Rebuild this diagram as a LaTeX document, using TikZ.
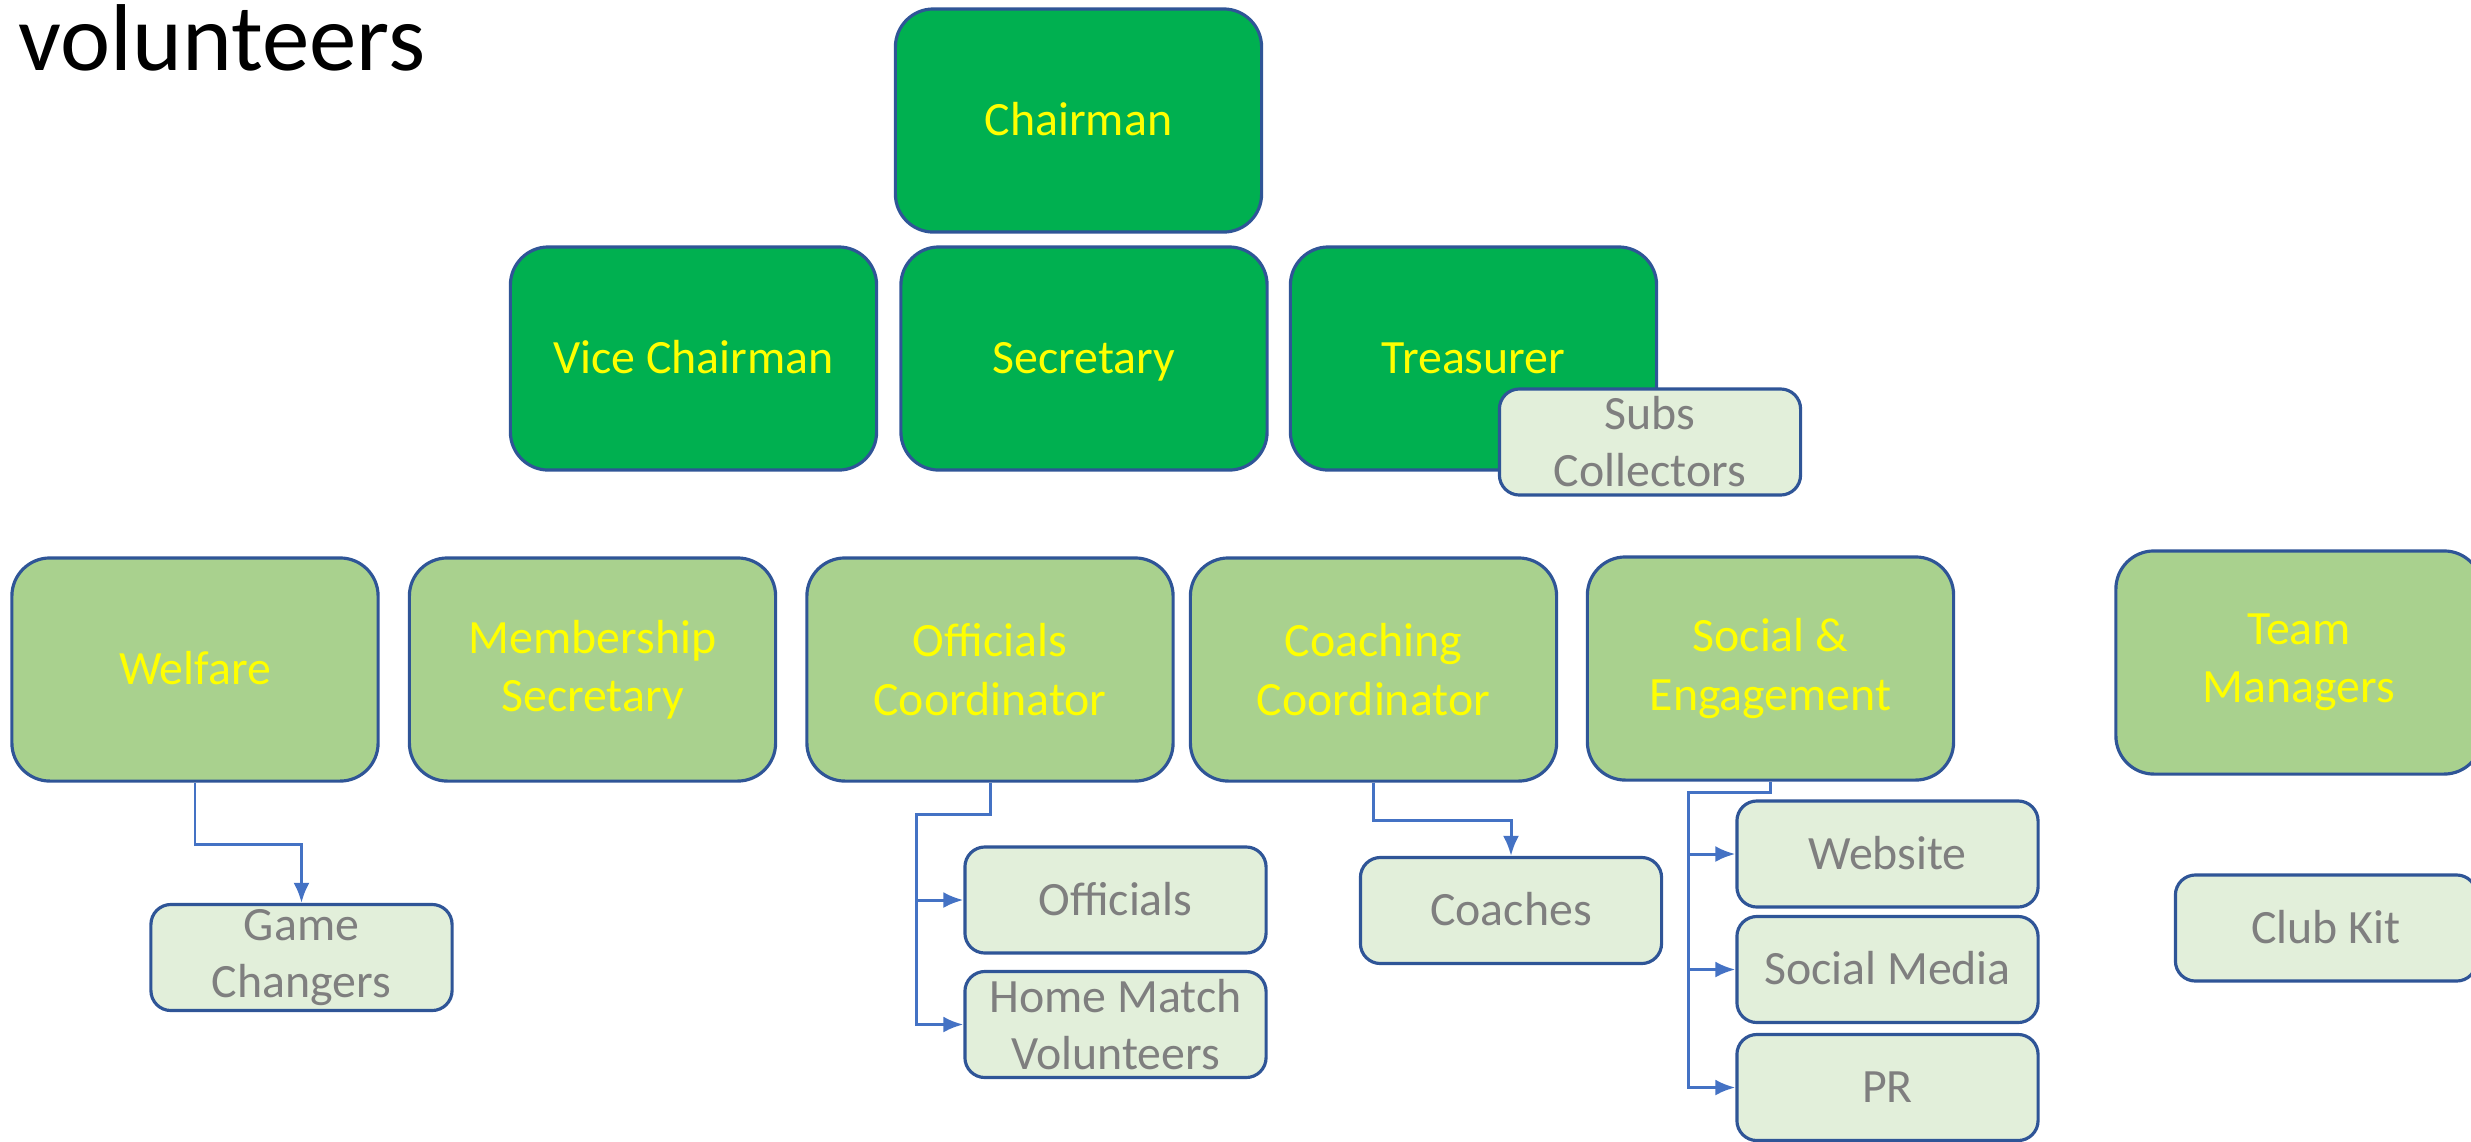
\documentclass[tikz,border=0pt]{standalone}
\usepackage{fontspec}
\setmainfont{Carlito}
\usetikzlibrary{arrows.meta}
\definecolor{boardgreen}{HTML}{00B050}
\definecolor{leadgreen}{HTML}{A9D18E}
\definecolor{helpgreen}{HTML}{E2EFDA}
\definecolor{boxline}{HTML}{2F5597}
\definecolor{linkblue}{HTML}{4472C4}
\definecolor{helpgray}{HTML}{7F7F7F}
\definecolor{roleyellow}{HTML}{FFFF00}

\begin{document}
\begin{tikzpicture}[x=0.01cm, y=-0.01cm,
    role/.style={draw=boxline, line width=0.9pt, rounded corners=0.38cm,
        minimum width=3.66cm, minimum height=2.23cm, inner sep=0pt,
        align=center, text=roleyellow,
        font=\fontsize{13.6pt}{16.6pt}\selectfont},
    board/.style={role, fill=boardgreen},
    lead/.style={role, fill=leadgreen},
    helper/.style={draw=boxline, line width=0.9pt, rounded corners=0.2cm,
        fill=helpgreen, minimum width=3.01cm, minimum height=1.06cm,
        inner sep=0pt, align=center, text=helpgray,
        font=\fontsize{13.6pt}{16.2pt}\selectfont},
    single/.style={text height=8.8pt, text depth=0pt},
    link/.style={draw=linkblue, line width=0.85pt,
        -{Latex[length=0.2cm, width=0.16cm]}}]
    \useasboundingbox (0,0) rectangle (2471,1141);
    \node[anchor=base west, inner sep=0pt,
        font=\fontsize{27pt}{30pt}\selectfont] (title) at (18,70) {volunteers};
    % committee
    \node[board, single] (chair) at (1078.5,120.5) {Chairman};
    \node[board, single] (vice) at (693.5,358.5) {Vice Chairman};
    \node[board, single] (sec) at (1084,358.5) {Secretary};
    \node[board, single] (treas) at (1473.5,358.5) {Treasurer};
    \node[helper] (subs) at (1650,442) {Subs\\Collectors};
    % leads
    \node[lead, single] (welfare) at (195,669.5) {Welfare};
    \node[lead] (member) at (592.5,669.5) {Membership\\Secretary};
    \node[lead] (offco) at (990,669.5) {Officials\\Coordinator};
    \node[lead] (coachco) at (1373.5,669.5) {Coaching\\Coordinator};
    \node[lead] (social) at (1770.5,668.5) {Social \&\\Engagement};
    \node[lead] (team) at (2299,662.5) {Team\\Managers};
    % helpers
    \node[helper] (changers) at (301.5,957.5) {Game\\Changers};
    \node[helper, single] (officials) at (1115.5,900) {Officials};
    \node[helper] (homematch) at (1115.5,1024.5) {Home Match\\Volunteers};
    \node[helper, single] (coaches) at (1511,910.5) {Coaches};
    \node[helper, single] (website) at (1887.5,854) {Website};
    \node[helper, single] (media) at (1887.5,969.5) {Social Media};
    \node[helper, single] (pr) at (1887.5,1087.5) {PR};
    \node[helper, single] (kit) at (2326,928) {Club Kit};
    % links
    \coordinate (offbus) at (916,814);
    \coordinate (socbus) at (1688,792);
    \draw[link] (welfare.south) -- ++(0,62) -| (changers.north);
    \draw[link] (offco.south) |- (offbus) |- (homematch.west);
    \draw[link] (offbus) |- (officials.west);
    \draw[link] (coachco.south) -- ++(0,38) -| (coaches.north);
    \draw[link] (social.south) |- (socbus) |- (pr.west);
    \draw[link] (socbus) |- (website.west);
    \draw[link] (socbus) |- (media.west);
\end{tikzpicture}
\end{document}
